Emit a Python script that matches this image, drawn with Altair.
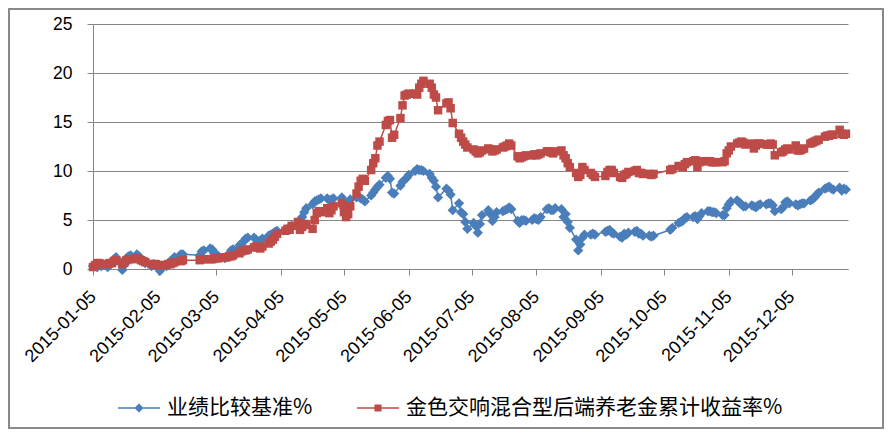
import altair as alt
import pandas as pd

S1 = "业绩比较基准%"
S2 = "金色交响混合型后端养老金累计收益率%"
COLORS = ["#4A7EBB", "#BE4B48"]

# trading days of 2015 (day of month), per month
days_jan = [5, 6, 7, 8, 9, 12, 13, 14, 15, 16, 19, 20, 21, 22, 23, 26, 27, 28, 29, 30]
days_feb = [2, 3, 4, 5, 6, 9, 10, 11, 12, 13, 16, 17, 25, 26, 27]
days_mar = [2, 3, 4, 5, 6, 9, 10, 11, 12, 13, 16, 17, 18, 19, 20, 23, 24, 25, 26, 27, 30, 31]
days_apr = [1, 2, 3, 7, 8, 9, 10, 13, 14, 15, 16, 17, 20, 21, 22, 23, 24, 27, 28, 29, 30]
days_may = [4, 5, 6, 7, 8, 11, 12, 13, 14, 15, 18, 19, 20, 21, 22, 25, 26, 27, 28, 29]
days_jun = [1, 2, 3, 4, 5, 8, 9, 10, 11, 12, 15, 16, 17, 18, 19, 23, 24, 25, 26, 29, 30]
days_jul = [1, 2, 3, 6, 7, 8, 9, 10, 13, 14, 15, 16, 17, 20, 21, 22, 23, 24, 27, 28, 29, 30, 31]
days_aug = [3, 4, 5, 6, 7, 10, 11, 12, 13, 14, 17, 18, 19, 20, 21, 24, 25, 26, 27, 28, 31]
days_sep = [1, 2, 7, 8, 9, 10, 11, 14, 15, 16, 17, 18, 21, 22, 23, 24, 25, 28, 29, 30]
days_oct = [8, 9, 12, 13, 14, 15, 16, 19, 20, 21, 22, 23, 26, 27, 28, 29, 30]
days_nov = [2, 3, 4, 5, 6, 9, 10, 11, 12, 13, 16, 17, 18, 19, 20, 23, 24, 25, 26, 27, 30]
days_dec = [1, 2, 3, 4, 7, 8, 9, 10, 11, 14, 15, 16, 17, 18, 21, 22, 23, 24, 25, 28, 29, 30, 31]
month_days = [days_jan, days_feb, days_mar, days_apr, days_may, days_jun,
              days_jul, days_aug, days_sep, days_oct, days_nov, days_dec]

# 业绩比较基准% (one value per trading day)
bench = [
    0.3, 0.4, 0.2, 0.5, 0.3, 0.2, 0.4, 0.6, 1.0, 1.2, -0.1, 0.4, 1.1, 1.3, 1.4, 1.5, 1.3, 1.0, 0.8, 0.6,
    0.3, 0.5, 0.4, 0.2, -0.2, 0.3, 0.6, 0.8, 1.0, 1.2, 1.5, 1.5, 1.4, 1.8, 1.9,
    2.1, 2.0, 1.6, 1.5, 1.3, 1.1, 1.2, 1.5, 1.9, 2.0, 2.4, 2.6, 2.8, 3.1, 3.2, 3.2, 3.0, 2.8, 2.9, 3.1, 3.4, 3.5,
    3.6, 3.8, 3.9, 4.0, 4.1, 4.2, 4.4, 4.6, 5.0, 5.3, 5.8, 6.2, 6.6, 6.9, 7.0, 7.1, 7.2, 7.2, 7.0, 7.1, 7.2,
    7.3, 6.2, 6.0, 6.8, 7.1, 7.3, 7.4, 7.2, 7.1, 6.9, 7.5, 7.8, 8.1, 8.4, 8.6, 9.3, 9.5, 9.2, 7.8, 7.7,
    8.5, 8.9, 9.1, 9.3, 9.6, 10.0, 10.2, 10.1, 10.1, 10.0, 9.7, 9.3, 9.0, 8.4, 7.3, 8.2, 8.0, 7.6, 6.0, 6.7, 5.8,
    5.6, 4.8, 4.1, 4.7, 4.4, 3.7, 4.6, 5.5, 6.0, 5.6, 4.9, 5.3, 5.8, 5.9, 6.0, 6.1, 6.3, 6.1, 4.9, 4.7, 5.0, 5.0, 4.9,
    5.0, 5.2, 5.1, 5.0, 5.3, 6.1, 6.2, 6.0, 6.0, 6.2, 6.1, 5.3, 5.6, 4.8, 4.2, 3.0, 1.9, 2.5, 3.2, 3.5, 3.5,
    3.6, 3.5, 3.8, 3.9, 4.0, 3.7, 3.6, 3.3, 3.2, 3.6, 3.5, 3.7, 3.8, 3.9, 3.6, 3.6, 3.4, 3.4, 3.3, 3.4,
    4.0, 4.2, 4.7, 4.8, 4.9, 5.2, 5.3, 5.3, 5.4, 5.1, 5.4, 5.7, 5.9, 5.9, 5.8, 5.8, 5.7,
    5.5, 5.5, 6.2, 6.6, 6.9, 7.0, 6.8, 6.6, 6.4, 6.4, 6.5, 6.4, 6.3, 6.5, 6.6, 6.6, 6.7, 6.7, 6.5, 5.9, 6.1,
    6.3, 6.8, 6.9, 6.7, 6.6, 6.5, 6.6, 6.7, 6.7, 7.0, 7.1, 7.3, 7.6, 7.8, 8.2, 8.3, 8.4, 8.2, 8.1, 8.3, 8.0, 8.2, 8.1,
]

# 金色交响混合型后端养老金累计收益率% (one value per trading day)
fund = [
    0.2, 0.4, 0.6, 0.6, 0.5, 0.5, 0.6, 0.6, 0.8, 0.9, 0.5, 0.7, 0.9, 1.0, 1.0, 1.1, 1.0, 0.9, 0.8, 0.7,
    0.5, 0.5, 0.5, 0.4, 0.4, 0.4, 0.5, 0.5, 0.6, 0.7, 0.8, 0.9, 0.9, 1.0, 1.0,
    1.0, 1.0, 1.1, 1.1, 1.1, 1.2, 1.2, 1.3, 1.3, 1.4, 1.6, 1.8, 1.9, 1.9, 2.0, 2.2, 2.3, 2.2, 2.1, 2.3, 2.6, 2.8,
    3.0, 3.3, 3.6, 3.9, 4.1, 4.0, 4.4, 4.8, 4.0, 4.3, 4.6, 4.5, 4.1, 5.0, 5.7, 5.9, 5.8, 6.2, 5.7, 6.0, 6.4,
    6.7, 5.8, 5.3, 5.6, 6.4, 7.7, 8.4, 9.0, 9.2, 9.0, 10.1, 10.8, 11.3, 12.6, 13.0, 14.7, 15.1, 15.2, 13.4, 13.7,
    15.4, 16.7, 17.7, 17.8, 17.9, 17.9, 17.8, 18.5, 18.9, 19.2, 18.9, 18.5, 17.8, 17.5, 16.2, 16.9, 17.0, 16.4, 14.9, 13.8, 13.4,
    13.0, 12.7, 12.4, 12.2, 12.0, 11.8, 11.9, 12.1, 12.3, 12.2, 12.0, 12.1, 12.2, 12.4, 12.5, 12.6, 12.8, 12.6, 11.5, 11.3, 11.4, 11.5, 11.6,
    11.6, 11.7, 11.6, 11.7, 11.8, 12.0, 12.0, 11.9, 11.8, 12.0, 12.1, 11.6, 11.3, 10.8, 10.4, 9.8, 9.4, 9.6, 10.4, 10.1, 9.8,
    9.6, 9.4, 9.5, 9.9, 10.1, 10.1, 9.8, 9.4, 9.3, 9.6, 9.7, 9.9, 10.0, 10.1, 9.8, 9.8, 9.7, 9.7, 9.6, 9.7,
    10.1, 10.2, 10.5, 10.5, 10.4, 10.7, 10.9, 11.0, 11.1, 10.4, 10.9, 11.0, 11.0, 11.0, 10.9, 10.9, 10.9,
    10.9, 11.0, 11.8, 12.1, 12.5, 12.8, 12.9, 13.0, 12.9, 12.7, 12.8, 12.3, 12.6, 12.8, 12.8, 12.7, 12.7, 12.8, 12.7, 11.6, 11.9,
    12.0, 12.2, 12.3, 12.2, 12.6, 12.1, 12.1, 12.2, 12.3, 12.8, 12.9, 13.0, 13.1, 13.2, 13.5, 13.6, 13.6, 13.7, 13.7, 14.2, 13.8, 13.7, 13.8,
]

dates = [f"2015-{m + 1:02d}-{d:02d}" for m, ds in enumerate(month_days) for d in ds]
n = len(dates)
df = pd.DataFrame({
    "date": pd.to_datetime(dates * 2),
    "series": [S1] * n + [S2] * n,
    "value": bench + fund,
})

GRAY = "#868686"
AXIS_FONT = "Liberation Sans"

# legend symbols: a short (filled, thin) line with the marker in its middle
P1 = "M-1,-0.036L1,-0.036L1,0.036L-1,0.036ZM0,-0.22L0.22,0L0,0.22L-0.22,0Z"
P2 = "M-1,-0.036L1,-0.036L1,0.036L-1,0.036ZM-0.17,-0.17L0.17,-0.17L0.17,0.17L-0.17,0.17Z"

legend = alt.Legend(
    orient="none", legendX=25, legendY=363, direction="horizontal", title=None,
    symbolSize=1764, symbolStrokeWidth=0, symbolOpacity=1,
    labelFont="Noto Sans CJK SC", labelFontSize=21, labelColor="#000000", labelLimit=0,
    labelOffset=7, columnPadding=44, padding=0,
)

x = alt.X(
    "date:T",
    scale=alt.Scale(domain=[alt.DateTime(year=2015, month=1, date=5),
                            alt.DateTime(year=2016, month=1, date=1)]),
    axis=alt.Axis(
        values=[alt.DateTime(year=2015, month=m, date=5) for m in range(1, 13)],
        format="%Y-%m-%d", labelAngle=-45, labelAlign="right", labelBaseline="middle",
        labelFont=AXIS_FONT, labelFontSize=18, labelColor="#000000", labelPadding=19,
        tickSize=6, tickColor=GRAY, domainColor=GRAY, grid=False, title=None,
        labelOverlap=False,
    ),
)
y = alt.Y(
    "value:Q",
    scale=alt.Scale(domain=[0, 25]),
    axis=alt.Axis(
        values=[0, 5, 10, 15, 20, 25], grid=True, gridColor=GRAY, gridOpacity=1,
        domainColor=GRAY, tickColor=GRAY, tickSize=6, labelFont=AXIS_FONT,
        labelFontSize=17.5, labelColor="#000000", labelPadding=15, title=None,
    ),
)

base = alt.Chart(df)
layers = []
for s, col, shp, sz in [(S1, COLORS[0], "diamond", 105), (S2, COLORS[1], "square", 72)]:
    sub = base.transform_filter(alt.datum.series == s)
    layers.append(sub.mark_line(strokeWidth=1.5, color=col).encode(x=x, y=y))
    layers.append(sub.mark_point(filled=True, opacity=1, size=sz, shape=shp, color=col).encode(x=x, y=y))

# legend-only layer (no rows drawn)
legend_layer = base.transform_filter("false").mark_point(filled=True, opacity=1).encode(
    x=x, y=y,
    color=alt.Color("series:N", scale=alt.Scale(domain=[S1, S2], range=COLORS), legend=legend),
    shape=alt.Shape("series:N", scale=alt.Scale(domain=[S1, S2], range=[P1, P2]), legend=legend),
)

frame = alt.Chart(pd.DataFrame({"k": [0]})).mark_rect(
    fillOpacity=0, stroke="#898989", strokeWidth=2
).encode(x=alt.value(-84), x2=alt.value(790), y=alt.value(-15), y2=alt.value(404))

chart = alt.layer(*layers, legend_layer, frame).properties(
    width=755, height=245,
    autosize=alt.AutoSizeParams(type="none"),
    padding={"left": 85, "top": 16, "right": 36, "bottom": 160},
    background="white",
).configure_view(strokeWidth=0)

chart.save("out.html", embed_options={"renderer": "svg", "actions": False})
